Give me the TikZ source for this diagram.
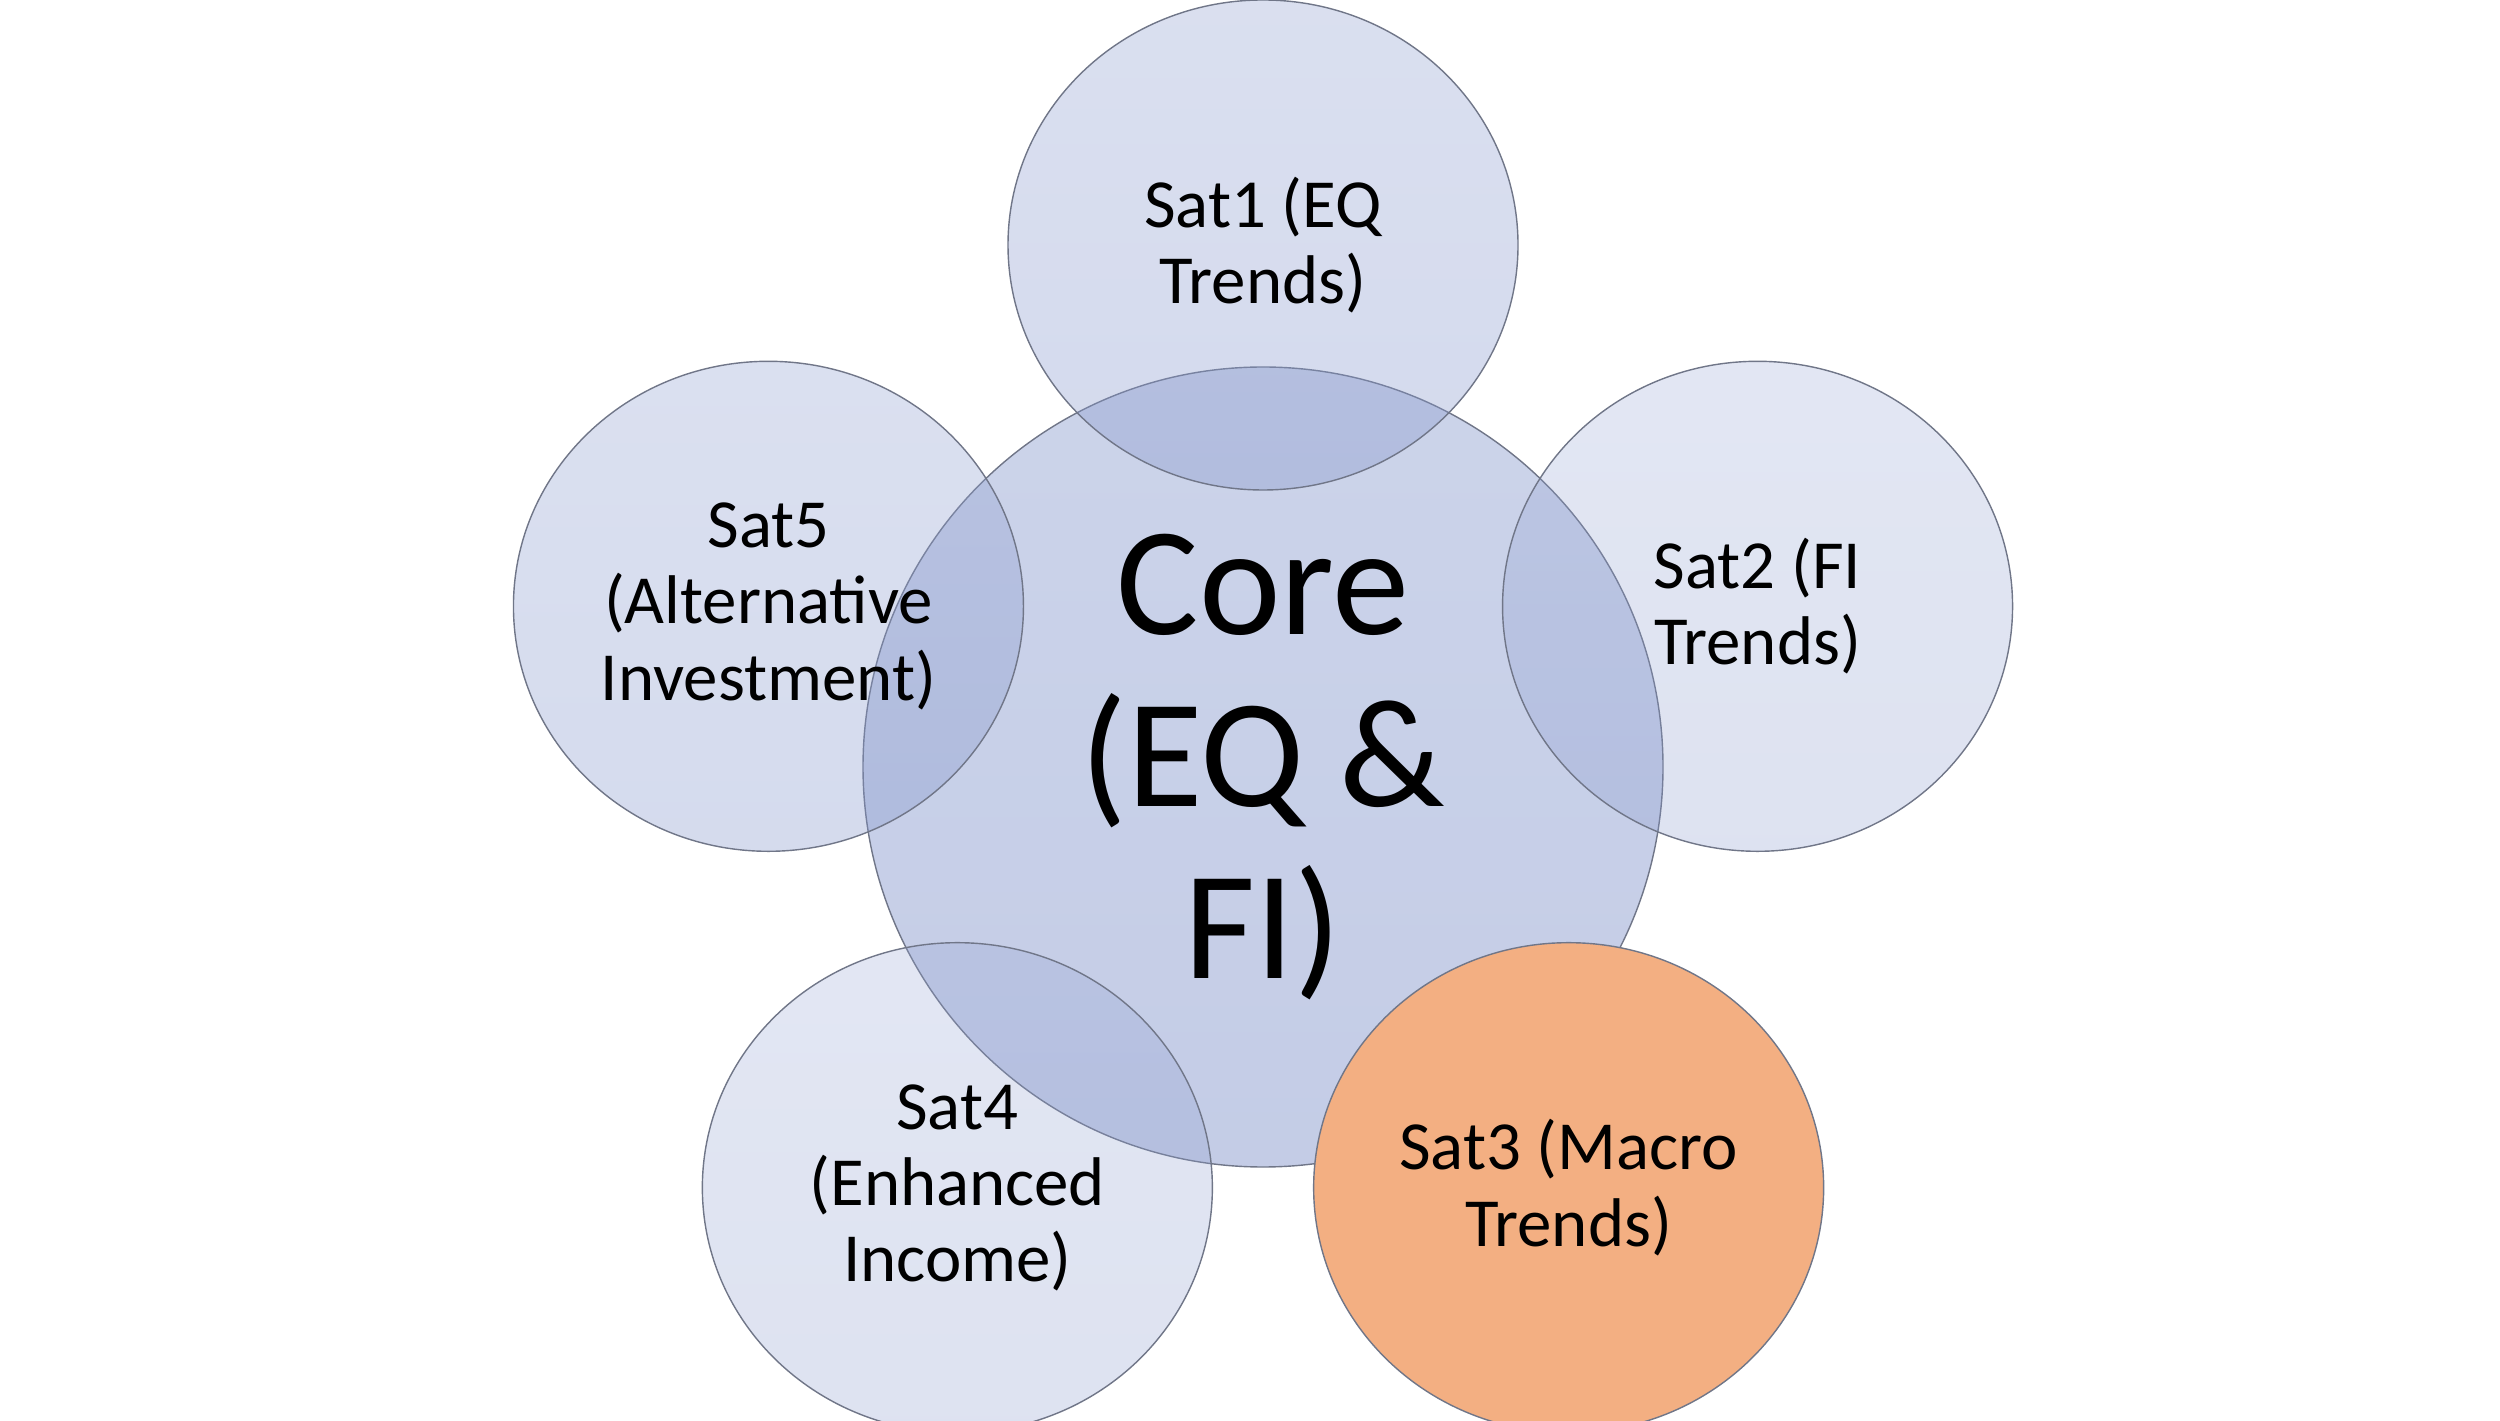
\documentclass[tikz,border=0pt]{standalone}
\usepackage{fontspec}
\setmainfont{Carlito}
\usetikzlibrary{calc,shapes.geometric}

\definecolor{satblue}{RGB}{131,149,203}
\definecolor{satline}{RGB}{112,118,136}
\definecolor{hotfill}{RGB}{243,175,130}

\tikzset{
  bubble/.style={draw=satline,line width=.4pt,text opacity=1,inner sep=0pt,align=center},
  core/.style={bubble,circle,top color=satblue!86,bottom color=satblue,fill opacity=.48,
    minimum size=8cm,font=\fontsize{44}{49}\selectfont},
  sat/.style={bubble,ellipse,top color=satblue!86,bottom color=satblue,
    minimum width=5.1cm,minimum height=4.9cm,font=\fontsize{19.6}{21.7}\selectfont},
  hot/.style={bubble,ellipse,fill=hotfill,
    minimum width=5.1cm,minimum height=4.9cm,font=\fontsize{19.6}{21.7}\selectfont}
}

\begin{document}
\begin{tikzpicture}
    \useasboundingbox (0,0) rectangle (25,14.2);
    % core in the middle, satellites round it
    \node[core] (core) at (12.63,6.53) {Core\\(EQ \&\\FI)};
    \node[sat,fill opacity=.35] (sat1) at ($(core)+(90:5.22)$) {Sat1 (EQ\\Trends)};
    \node[sat,fill opacity=.27] (sat2) at ($(core)+(18:5.2)$) {Sat2 (FI\\Trends)};
    \node[sat,fill opacity=.27] (sat4) at ($(core)+(234:5.2)$) {Sat4\\(Enhanced\\Income)};
    \node[sat,fill opacity=.34] (sat5) at ($(core)+(162:5.2)$) {Sat5\\(Alternative\\Investment)};
    \node[hot] (sat3) at ($(core)+(-54:5.2)$) {Sat3 (Macro\\Trends)};
\end{tikzpicture}
\end{document}
